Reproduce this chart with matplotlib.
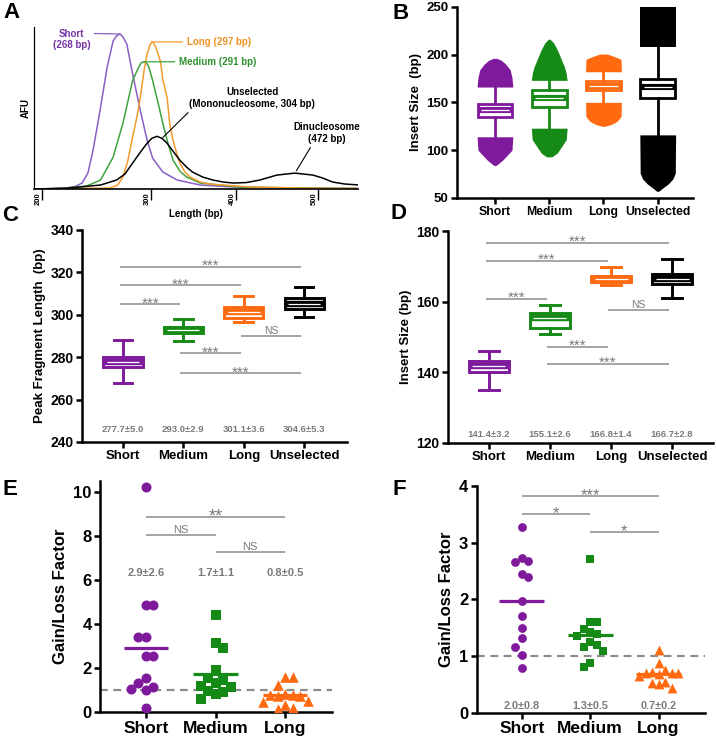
import numpy as np
import matplotlib
matplotlib.use("Agg")
import matplotlib.pyplot as plt

plt.rcParams['font.family'] = ['Liberation Sans', 'DejaVu Sans']
plt.rcParams['font.weight'] = 'bold'
plt.rcParams['axes.labelweight'] = 'bold'

# ---------------- data ----------------
# A: electropherogram traces (bp, AFU)
short_bp = [195, 207, 220, 229, 235, 240, 244.5, 250.6, 256.7, 262, 265, 268, 271, 275, 281, 289, 296, 302, 314, 331, 358, 397, 454, 551]
short_afu = [0, 0.3, 1, 2.5, 6, 16, 39, 79, 122, 149, 154, 156, 153, 146, 116, 79, 49, 31, 17, 9, 4, 2, 1, 0.5]
medium_bp = [195, 222, 239, 251, 262, 271, 281, 287, 290, 293, 296, 298, 302, 308, 314, 320, 326, 334, 342, 358, 405, 478, 551]
medium_afu = [0, 1, 3, 9, 32, 66, 109, 122, 127, 128, 126, 122, 109, 88, 66, 46, 29, 18, 12, 6, 2, 1, 0.5]
long_bp = [195, 259, 266, 271, 276, 281, 286, 289, 293, 296, 299, 301, 303, 306, 311, 314, 319, 322, 326, 331, 334, 340, 346, 358, 369, 417, 478, 551]
long_afu = [0, 1, 4, 12, 28, 52, 75, 92, 120, 136, 145, 148, 147, 142, 129, 110, 92, 66, 49, 34, 26, 17, 12, 7, 5, 2, 1, 0.5]
unsel_bp = [195, 222, 251, 265, 273, 281, 289, 296, 301, 307, 313, 319, 326, 334, 342, 349, 361, 373, 385, 397, 413, 429, 450, 472, 494, 506, 518, 533, 551]
unsel_afu = [0, 0.8, 4, 9, 15, 26, 37, 46, 51, 53, 51, 46, 38, 29, 22, 17, 12, 9, 7, 6, 6.5, 9, 14, 16, 14, 11, 7, 5, 4]

cats4 = ["Short", "Medium", "Long", "Unselected"]
cats3 = ["Short", "Medium", "Long"]

# B: insert size box plots (Tukey) + outlier cloud outline (value, relative width)
b_q1 = [134.5, 145.0, 163.0, 154.4]
b_med = [141.5, 154.5, 167.5, 165.8]
b_q3 = [148.4, 162.4, 172.4, 174.2]
b_lo = [114, 123, 150, 116]
b_hi = [166, 173.5, 182, 208]
b_out_hi = [
    [(166, 1.0), (176, 0.95), (184, 0.85), (190, 0.6), (194, 0.35), (196, 0.1)],
    [(173, 1.0), (180, 0.95), (187, 0.85), (196, 0.65), (205, 0.45), (212, 0.25), (216, 0.05)],
    [(182, 1.0), (195, 0.98), (198, 0.6), (200.5, 0.2)],
    [(208, 1.0), (250, 1.0)],
]
b_out_lo = [
    [(114, 1.0), (100, 0.95), (95, 0.7), (90, 0.45), (86, 0.2), (84, 0.05)],
    [(123, 1.0), (111, 0.95), (104, 0.7), (97, 0.45), (93, 0.15)],
    [(150, 1.0), (135, 0.98), (130, 0.75), (127, 0.45), (125, 0.1)],
    [(116, 1.0), (76, 0.98), (70, 0.85), (65, 0.6), (60, 0.25), (57, 0.05)],
]

# C: peak fragment length
c_q1 = [275.3, 291.3, 298.7, 302.6]
c_med = [277.6, 292.9, 301.3, 305.1]
c_q3 = [280.3, 294.4, 303.5, 308.1]
c_lo = [267.8, 287.8, 296.8, 298.8]
c_hi = [288.2, 297.9, 309.0, 313.0]
c_stats = ["277.7±5.0", "293.0±2.9", "301.1±3.6", "304.6±5.3"]
c_sig = [(0, 3, 322.7, "***"), (0, 2, 314.0, "***"), (0, 1, 305.0, "***"),
         (2, 3, 290.2, "NS"), (1, 2, 281.9, "***"), (1, 3, 272.5, "***")]

# D: insert size
d_q1 = [140.1, 152.7, 165.6, 165.1]
d_med = [141.8, 155.4, 166.4, 166.4]
d_q3 = [143.3, 156.8, 167.4, 167.9]
d_lo = [135.0, 150.9, 164.8, 161.0]
d_hi = [146.1, 159.1, 170.0, 172.1]
d_stats = ["141.4±3.2", "155.1±2.6", "166.8±1.4", "166.7±2.8"]
d_sig = [(0, 3, 176.8, "***"), (0, 2, 171.7, "***"), (0, 1, 160.9, "***"),
         (2, 3, 157.7, "NS"), (1, 2, 147.3, "***"), (1, 3, 142.4, "***")]

# E / F: gain/loss factors
e_short = [10.25, 4.85, 4.85, 3.41, 3.41, 2.55, 2.55, 1.55, 1.32, 1.16, 1.07, 1.01, 0.21]
e_medium = [4.42, 3.16, 2.91, 1.92, 1.55, 1.45, 1.35, 1.2, 1.15, 0.95, 0.9, 0.85, 0.62]
e_long = [1.59, 1.59, 1.24, 0.85, 0.8, 0.78, 0.75, 0.72, 0.5, 0.45, 0.35, 0.2, 0.15]
e_stats = ["2.9±2.6", "1.7±1.1", "0.8±0.5"]
e_sig = [(0, 2, 8.86, "**"), (0, 1, 8.03, "NS"), (1, 2, 7.26, "NS")]

f_short = [3.27, 2.72, 2.68, 2.66, 2.44, 2.40, 1.97, 1.71, 1.50, 1.32, 1.16, 1.02, 0.78]
f_medium = [2.71, 1.60, 1.60, 1.48, 1.42, 1.38, 1.36, 1.24, 1.20, 1.16, 1.08, 0.87, 0.81]
f_long = [1.10, 0.87, 0.75, 0.72, 0.70, 0.70, 0.70, 0.68, 0.65, 0.55, 0.52, 0.50, 0.43]
f_stats = ["2.0±0.8", "1.3±0.5", "0.7±0.2"]
f_sig = [(0, 2, 3.82, "***"), (0, 1, 3.50, "*"), (1, 2, 3.19, "*")]

# ---------------- style ----------------
PURPLE = '#7e1a9b'
GREEN = '#168a16'
ORANGE = '#ff6a10'
BLACK = '#000000'
cols = [PURPLE, GREEN, ORANGE, BLACK]
GRAY = '#8c8c8c'
GRAY_T = '#7a7a7a'

W, H = 716, 744
fig = plt.figure(figsize=(W / 100, H / 100), dpi=100)


def add_ax(l, t, r, b):
    return fig.add_axes([l / W, 1 - b / H, (r - l) / W, (b - t) / H])


def style(ax, tick_fs):
    for s in ['top', 'right']:
        ax.spines[s].set_visible(False)
    for s in ['left', 'bottom']:
        ax.spines[s].set_linewidth(1.8)
    ax.tick_params(width=1.8, length=4, labelsize=tick_fs, pad=2)


def boxes(ax, q1, med, q3, lo, hi, width, capw, showcaps=True, lw=2.0):
    stats = [dict(q1=a, med=m, q3=c, whislo=l, whishi=h, fliers=[])
             for a, m, c, l, h in zip(q1, med, q3, lo, hi)]
    art = ax.bxp(stats, positions=range(len(stats)), widths=width, showcaps=showcaps,
                 capwidths=capw, patch_artist=True, manage_ticks=False,
                 medianprops=dict(lw=lw * 2.2), zorder=3)
    for i, c in enumerate(cols[:len(stats)]):
        art['boxes'][i].set(facecolor='white', edgecolor=c, lw=lw)
        art['medians'][i].set(color=c, solid_capstyle='butt')
        for k in (2 * i, 2 * i + 1):
            art['whiskers'][k].set(color=c, lw=lw)
            if showcaps:
                art['caps'][k].set(color=c, lw=lw)
    # thin white stripe in the median band
    for i, m in enumerate(med):
        ax.hlines(m, i - width / 2 + 0.06, i + width / 2 - 0.06, color='white', lw=0.9, zorder=4)


def bracket(ax, a, b, y, lab, fs, shift=0.0):
    ax.plot([a + shift, b + shift], [y, y], color=GRAY, lw=1.1, solid_capstyle='butt', zorder=2)
    if '*' in lab:
        dy_px = 3 - 0.42 * fs * 1.389
    else:
        dy_px = 2
    ax.annotate(lab, ((a + b) / 2 + shift, y), xytext=(0, dy_px * 0.72), textcoords='offset points',
                ha='center', va='baseline', fontsize=fs, color=GRAY_T, fontweight='normal')


def swarm_x(ax, xc, vals, rx, ry):
    # slot-based dot layout; points clash inside an ellipse of radii rx, ry (pixels)
    tr = ax.transData
    unit = tr.transform((1, 0))[0] - tr.transform((0, 0))[0]
    ys = tr.transform(np.column_stack([np.full(len(vals), xc), vals]))[:, 1]
    placed, xs = [], []
    side = 1
    for y in ys:
        slots = [0] + [s for n in range(1, 15) for s in (side * n, -side * n)]
        for s in slots:
            x = s * rx
            if all(((x - px) / rx) ** 2 + ((y - py) / ry) ** 2 >= 0.999 for px, py in placed):
                break
        if x != 0:
            side = -np.sign(x)
        placed.append((x, y))
        xs.append(xc + x / unit)
    return np.array(xs)


# ---------------- A ----------------
axA = add_ax(34, 27, 358, 189)
nodes_bp = [100, 200, 268, 300, 400, 500, 700]
nodes_px = [-73, 42, 120, 151, 236, 318, 482]
axA.set_xscale('function', functions=(lambda x: np.interp(x, nodes_bp, nodes_px),
                                      lambda y: np.interp(y, nodes_px, nodes_bp)))
axA.plot(short_bp, short_afu, color='#8a5ec4', lw=1.1)
axA.plot(medium_bp, medium_afu, color='#3ea33e', lw=1.1)
axA.plot(long_bp, long_afu, color='#f39b2f', lw=1.1)
axA.plot(unsel_bp, unsel_afu, color='black', lw=1.1)
axA.set_xlim(193, 549)
axA.set_ylim(0, 163)
for s in ['top', 'right']:
    axA.spines[s].set_visible(False)
axA.spines['left'].set_linewidth(0.9)
axA.spines['bottom'].set_linewidth(1.2)
axA.set_yticks([])
axA.set_xticks([200, 300, 400, 500])
axA.set_xticklabels(['200', '300', '400', '500'], rotation=90, ha='right', va='top', fontsize=5.5)
axA.tick_params(axis='x', length=8, width=1.0, pad=-6)
axA.set_xlabel('Length (bp)', fontsize=7, labelpad=3)
axA.set_ylabel('AFU', fontsize=7, labelpad=2)

lab_kw = dict(textcoords='offset points', fontsize=7, fontweight='bold')
axA.annotate('Short\n(268 bp)', xy=(268, 156), xytext=(-35, -4), ha='center', va='center',
             color='#7434a6', arrowprops=dict(arrowstyle='-', color='#8a5ec4', lw=0.9,
                                              relpos=(1, 0.78), shrinkA=1, shrinkB=0), **lab_kw)
axA.annotate('Long (297 bp)', xy=(301, 148), xytext=(25, 0), ha='left', va='center',
             color='#ec9222', arrowprops=dict(arrowstyle='-', color='#f39b2f', lw=0.9,
                                              relpos=(0, 0.5), shrinkA=1, shrinkB=0), **lab_kw)
axA.annotate('Medium (291 bp)', xy=(293, 128), xytext=(25, 0), ha='left', va='center',
             color='#2f922f', arrowprops=dict(arrowstyle='-', color='#3ea33e', lw=0.9,
                                              relpos=(0, 0.5), shrinkA=1, shrinkB=0), **lab_kw)
axA.annotate('Unselected\n(Mononucleosome, 304 bp)', xy=(313, 51), xytext=(65, 29), ha='center',
             va='center', color='black', arrowprops=dict(arrowstyle='-', color='black', lw=0.8,
                                                          relpos=(0.02, 0.0), shrinkA=1, shrinkB=1), **lab_kw)
axA.annotate('Dinucleosome\n(472 bp)', xy=(472, 16), xytext=(23, 29), ha='center', va='center',
             color='black', arrowprops=dict(arrowstyle='-', color='black', lw=0.8,
                                            relpos=(0.29, 0.0), shrinkA=1, shrinkB=2), **lab_kw)

# ---------------- B ----------------
axB = add_ax(457, 6.7, 693, 198)
for i in range(4):
    for prof in (b_out_hi[i], b_out_lo[i]):
        v = [p[0] for p in prof]
        w = np.array([p[1] for p in prof]) * 0.33
        axB.fill_betweenx(v, i - w, i + w, color=cols[i], lw=0, zorder=1)
boxes(axB, b_q1, b_med, b_q3, b_lo, b_hi, 0.64, 0.3, showcaps=False, lw=2.0)
axB.set_xlim(-0.7, 3.65)
axB.set_ylim(50, 250)
axB.set_yticks([50, 100, 150, 200, 250])
axB.set_xticks(range(4))
axB.set_xticklabels(cats4, fontsize=8.8)
style(axB, 9.5)
axB.tick_params(axis='x', labelsize=8.8)
axB.set_ylabel('Insert Size  (bp)', fontsize=9.5, labelpad=3)

# ---------------- C ----------------
axC = add_ax(82, 230, 347, 442)
boxes(axC, c_q1, c_med, c_q3, c_lo, c_hi, 0.65, 0.31, lw=2.1)
for a, b, y, lab in c_sig:
    bracket(axC, a, b, y, lab, 11 if '*' in lab else 7.5, shift=-0.05)
for i, t in enumerate(c_stats):
    axC.text(i, 245.8, t, ha='center', va='center', fontsize=6.8, color=GRAY_T)
axC.set_xlim(-0.68, 3.71)
axC.set_ylim(240, 340)
axC.set_yticks([240, 260, 280, 300, 320, 340])
axC.set_xticks(range(4))
axC.set_xticklabels(cats4)
style(axC, 10)
axC.tick_params(axis='x', labelsize=9.5)
axC.set_ylabel('Peak Fragment Length  (bp)', fontsize=9.5, labelpad=3)

# ---------------- D ----------------
axD = add_ax(448, 231.5, 713, 442.7)
boxes(axD, d_q1, d_med, d_q3, d_lo, d_hi, 0.66, 0.33, lw=2.1)
for a, b, y, lab in d_sig:
    bracket(axD, a, b, y, lab, 11 if '*' in lab else 7.5, shift=-0.05)
for i, t in enumerate(d_stats):
    axD.text(i, 122.2, t, ha='center', va='center', fontsize=6.8, color=GRAY_T)
axD.set_xlim(-0.67, 3.67)
axD.set_ylim(120, 180)
axD.set_yticks([120, 140, 160, 180])
axD.set_xticks(range(4))
axD.set_xticklabels(cats4)
style(axD, 10)
axD.tick_params(axis='x', labelsize=9.5)
axD.set_ylabel('Insert Size (bp)', fontsize=9.5, labelpad=3)

# ---------------- E ----------------
axE = add_ax(100, 481, 331.7, 712.3)
axE.set_xlim(-0.66, 2.67)
axE.set_ylim(0, 10.5)
axE.axhline(1, color=GRAY, lw=1.6, ls=(0, (3.5, 2.5)), zorder=1)
for i, (vals, mk, sz) in enumerate([(e_short, 'o', 52), (e_medium, 's', 44), (e_long, '^', 58)]):
    xs = swarm_x(axE, i, vals, 7.5, 11.0)
    axE.scatter(xs, vals, s=sz, marker=mk, color=cols[i], lw=0, zorder=3)
    axE.hlines(np.mean(vals), i - 0.32, i + 0.32, color=cols[i], lw=2.3, zorder=4)
for a, b, y, lab in e_sig:
    bracket(axE, a, b, y, lab, 13 if '*' in lab else 8)
for i, t in enumerate(e_stats):
    axE.text(i, 6.32, t, ha='center', va='center', fontsize=8, color=GRAY_T)
axE.set_yticks([0, 2, 4, 6, 8, 10])
axE.set_xticks(range(3))
axE.set_xticklabels(cats3)
style(axE, 12)
axE.tick_params(axis='x', labelsize=12.5)
axE.set_ylabel('Gain/Loss Factor', fontsize=12, labelpad=4)

# ---------------- F ----------------
axF = add_ax(476.7, 485.9, 705, 712.7)
axF.set_xlim(-0.66, 2.68)
axF.set_ylim(0, 4)
axF.axhline(1, color=GRAY, lw=1.6, ls=(0, (3.5, 2.5)), zorder=1)
for i, (vals, mk, sz) in enumerate([(f_short, 'o', 40), (f_medium, 's', 40), (f_long, '^', 50)]):
    xs = swarm_x(axF, i, vals, 6.5, 10.0)
    axF.scatter(xs, vals, s=sz, marker=mk, color=cols[i], lw=0, zorder=3)
    axF.hlines(np.mean(vals), i - 0.33, i + 0.33, color=cols[i], lw=2.3, zorder=4)
for a, b, y, lab in f_sig:
    bracket(axF, a, b, y, lab, 12)
for i, t in enumerate(f_stats):
    axF.text(i, 0.12, t, ha='center', va='center', fontsize=7.8, color=GRAY_T)
axF.set_yticks([0, 1, 2, 3, 4])
axF.set_xticks(range(3))
axF.set_xticklabels(cats3)
style(axF, 12)
axF.tick_params(axis='x', labelsize=12.5)
axF.set_ylabel('Gain/Loss Factor', fontsize=12, labelpad=4)

# panel letters
for lab, x, y in [('A', 3, 2), ('B', 392, 3), ('C', 2, 205), ('D', 391, 203), ('E', 2, 479), ('F', 392, 479)]:
    fig.text(x / W, 1 - y / H, lab, fontsize=16, fontweight='bold', ha='left', va='top')

fig.savefig('out.png', dpi=100)
